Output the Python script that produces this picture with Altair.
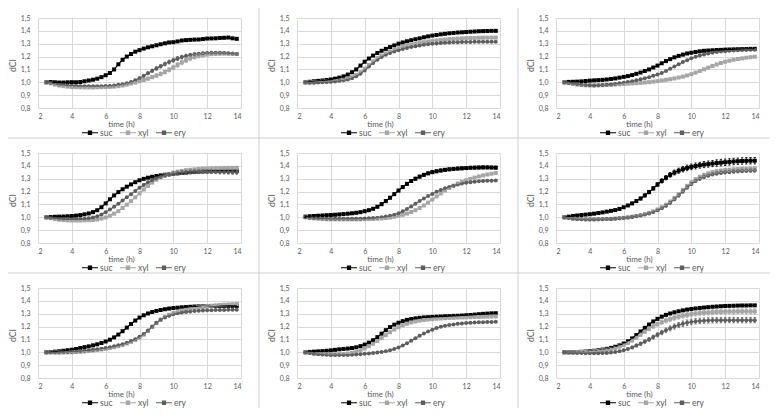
import altair as alt
import pandas as pd

# ---------------- data ----------------
TIME_H = [2.5, 2.75, 3.0, 3.25, 3.5, 3.75, 4.0, 4.25, 4.5, 4.75,
          5.0, 5.25, 5.5, 5.75, 6.0, 6.25, 6.5, 6.75, 7.0, 7.25,
          7.5, 7.75, 8.0, 8.25, 8.5, 8.75, 9.0, 9.25, 9.5, 9.75,
          10.0, 10.25, 10.5, 10.75, 11.0, 11.25, 11.5, 11.75, 12.0, 12.25,
          12.5, 12.75, 13.0, 13.25, 13.5, 13.75]
SERIES = ["suc", "xyl", "ery"]
COLORS = ["#000000", "#a6a6a6", "#5e5e5e"]
SHAPES = ["square", "square", "circle"]
X_TICKS = [2, 4, 6, 8, 10, 12, 14]
Y_TICKS = [0.8, 0.9, 1.0, 1.1, 1.2, 1.3, 1.4, 1.5]

P1_SUC = [1.000, 1.002, 1.000, 0.998, 0.998, 1.000, 1.001, 1.000, 1.002, 1.008,
          1.014, 1.020, 1.028, 1.040, 1.055, 1.072, 1.100, 1.140, 1.175, 1.200,
          1.220, 1.238, 1.250, 1.262, 1.272, 1.280, 1.288, 1.296, 1.303, 1.310,
          1.312, 1.318, 1.325, 1.328, 1.330, 1.332, 1.333, 1.336, 1.340, 1.341,
          1.342, 1.345, 1.346, 1.348, 1.342, 1.338]
P1_XYL = [1.000, 0.992, 0.982, 0.975, 0.970, 0.966, 0.963, 0.962, 0.961, 0.960,
          0.960, 0.960, 0.961, 0.962, 0.963, 0.964, 0.966, 0.970, 0.975, 0.982,
          0.990, 0.998, 1.008, 1.018, 1.028, 1.040, 1.052, 1.065, 1.080, 1.097,
          1.115, 1.135, 1.155, 1.172, 1.186, 1.197, 1.205, 1.211, 1.216, 1.219,
          1.221, 1.222, 1.223, 1.222, 1.221, 1.220]
P1_ERY = [1.000, 0.995, 0.988, 0.982, 0.978, 0.975, 0.973, 0.972, 0.970, 0.970,
          0.970, 0.970, 0.970, 0.970, 0.971, 0.972, 0.975, 0.980, 0.985, 0.992,
          1.002, 1.015, 1.032, 1.050, 1.070, 1.090, 1.108, 1.125, 1.142, 1.158,
          1.172, 1.185, 1.196, 1.205, 1.212, 1.218, 1.222, 1.225, 1.228, 1.229,
          1.230, 1.229, 1.228, 1.226, 1.223, 1.220]

P2_SUC = [1.000, 1.004, 1.008, 1.011, 1.014, 1.018, 1.022, 1.028, 1.036, 1.046,
          1.060, 1.078, 1.100, 1.130, 1.160, 1.185, 1.208, 1.228, 1.245, 1.260,
          1.274, 1.287, 1.300, 1.310, 1.319, 1.327, 1.335, 1.342, 1.350, 1.357,
          1.363, 1.368, 1.373, 1.377, 1.381, 1.384, 1.387, 1.389, 1.391, 1.393,
          1.395, 1.397, 1.398, 1.399, 1.400, 1.400]
P2_XYL = [1.000, 0.998, 1.000, 1.002, 1.004, 1.006, 1.008, 1.011, 1.015, 1.020,
          1.028, 1.040, 1.056, 1.078, 1.105, 1.135, 1.163, 1.188, 1.208, 1.225,
          1.240, 1.253, 1.265, 1.276, 1.285, 1.293, 1.300, 1.306, 1.312, 1.317,
          1.322, 1.326, 1.330, 1.333, 1.336, 1.338, 1.340, 1.342, 1.343, 1.344,
          1.345, 1.346, 1.347, 1.347, 1.348, 1.348]
P2_ERY = [1.000, 0.996, 0.996, 0.998, 1.000, 1.002, 1.004, 1.007, 1.011, 1.016,
          1.022, 1.032, 1.046, 1.066, 1.092, 1.122, 1.150, 1.175, 1.196, 1.214,
          1.228, 1.240, 1.250, 1.259, 1.267, 1.274, 1.280, 1.286, 1.291, 1.295,
          1.299, 1.302, 1.305, 1.307, 1.309, 1.311, 1.312, 1.313, 1.314, 1.314,
          1.315, 1.315, 1.315, 1.315, 1.315, 1.315]

P3_SUC = [1.000, 1.003, 1.004, 1.005, 1.007, 1.010, 1.013, 1.015, 1.017, 1.019,
          1.022, 1.026, 1.030, 1.036, 1.042, 1.048, 1.056, 1.066, 1.076, 1.088,
          1.100, 1.115, 1.130, 1.148, 1.165, 1.180, 1.194, 1.205, 1.215, 1.224,
          1.230, 1.236, 1.241, 1.245, 1.247, 1.249, 1.251, 1.252, 1.254, 1.255,
          1.256, 1.257, 1.258, 1.259, 1.260, 1.260]
P3_XYL = [1.000, 0.994, 0.988, 0.983, 0.979, 0.976, 0.975, 0.975, 0.976, 0.977,
          0.979, 0.981, 0.983, 0.985, 0.987, 0.989, 0.991, 0.993, 0.995, 0.998,
          1.001, 1.005, 1.009, 1.014, 1.019, 1.024, 1.030, 1.037, 1.044, 1.053,
          1.063, 1.075, 1.088, 1.101, 1.114, 1.127, 1.139, 1.150, 1.160, 1.168,
          1.175, 1.181, 1.186, 1.191, 1.195, 1.199]
P3_ERY = [1.000, 0.995, 0.990, 0.985, 0.981, 0.978, 0.976, 0.975, 0.976, 0.978,
          0.980, 0.983, 0.987, 0.992, 0.997, 1.003, 1.009, 1.016, 1.023, 1.031,
          1.040, 1.050, 1.060, 1.073, 1.088, 1.105, 1.123, 1.140, 1.157, 1.172,
          1.186, 1.198, 1.208, 1.217, 1.224, 1.230, 1.235, 1.239, 1.242, 1.245,
          1.247, 1.249, 1.251, 1.252, 1.253, 1.254]

P4_SUC = [1.000, 1.002, 1.004, 1.005, 1.006, 1.008, 1.010, 1.013, 1.017, 1.023,
          1.030, 1.040, 1.055, 1.078, 1.108, 1.140, 1.170, 1.196, 1.218, 1.238,
          1.256, 1.273, 1.288, 1.299, 1.308, 1.315, 1.321, 1.326, 1.331, 1.335,
          1.339, 1.342, 1.345, 1.348, 1.351, 1.353, 1.355, 1.357, 1.358, 1.359,
          1.360, 1.361, 1.362, 1.362, 1.362, 1.362]
P4_XYL = [1.000, 0.993, 0.986, 0.981, 0.978, 0.976, 0.975, 0.975, 0.975, 0.976,
          0.977, 0.979, 0.983, 0.990, 0.999, 1.012, 1.028, 1.048, 1.072, 1.098,
          1.126, 1.155, 1.186, 1.216, 1.244, 1.270, 1.292, 1.310, 1.325, 1.337,
          1.347, 1.355, 1.361, 1.366, 1.370, 1.373, 1.376, 1.378, 1.380, 1.381,
          1.382, 1.383, 1.384, 1.385, 1.385, 1.385]
P4_ERY = [1.000, 0.996, 0.992, 0.989, 0.987, 0.986, 0.985, 0.985, 0.986, 0.988,
          0.992, 0.998, 1.008, 1.022, 1.040, 1.060, 1.082, 1.106, 1.130, 1.155,
          1.180, 1.205, 1.230, 1.252, 1.272, 1.289, 1.303, 1.315, 1.325, 1.333,
          1.339, 1.344, 1.348, 1.351, 1.353, 1.354, 1.355, 1.355, 1.355, 1.355,
          1.354, 1.353, 1.352, 1.351, 1.350, 1.350]

P5_SUC = [1.005, 1.008, 1.010, 1.012, 1.014, 1.016, 1.018, 1.020, 1.022, 1.025,
          1.028, 1.031, 1.035, 1.040, 1.047, 1.055, 1.066, 1.082, 1.102, 1.126,
          1.152, 1.180, 1.208, 1.235, 1.260, 1.282, 1.300, 1.316, 1.330, 1.342,
          1.351, 1.358, 1.364, 1.369, 1.373, 1.376, 1.379, 1.381, 1.383, 1.385,
          1.386, 1.387, 1.388, 1.388, 1.387, 1.386]
P5_XYL = [1.000, 0.995, 0.991, 0.988, 0.986, 0.985, 0.984, 0.984, 0.984, 0.984,
          0.984, 0.984, 0.984, 0.984, 0.985, 0.986, 0.987, 0.989, 0.991, 0.994,
          0.998, 1.004, 1.011, 1.019, 1.029, 1.041, 1.055, 1.072, 1.092, 1.114,
          1.138, 1.162, 1.186, 1.208, 1.228, 1.246, 1.262, 1.276, 1.288, 1.299,
          1.309, 1.318, 1.326, 1.333, 1.339, 1.344]
P5_ERY = [1.000, 0.997, 0.994, 0.992, 0.990, 0.989, 0.988, 0.988, 0.988, 0.988,
          0.988, 0.988, 0.988, 0.989, 0.990, 0.992, 0.994, 0.997, 1.001, 1.006,
          1.012, 1.020, 1.031, 1.046, 1.064, 1.084, 1.105, 1.126, 1.146, 1.165,
          1.182, 1.198, 1.212, 1.225, 1.236, 1.246, 1.255, 1.262, 1.268, 1.273,
          1.277, 1.280, 1.282, 1.284, 1.285, 1.286]

P6_SUC = [1.000, 1.005, 1.010, 1.014, 1.018, 1.021, 1.024, 1.028, 1.033, 1.038,
          1.044, 1.050, 1.056, 1.065, 1.078, 1.092, 1.108, 1.126, 1.146, 1.170,
          1.196, 1.225, 1.255, 1.283, 1.308, 1.330, 1.348, 1.362, 1.374, 1.384,
          1.392, 1.399, 1.405, 1.410, 1.414, 1.418, 1.422, 1.425, 1.428, 1.431,
          1.434, 1.436, 1.438, 1.439, 1.440, 1.440]
P6_XYL = [1.000, 0.995, 0.991, 0.988, 0.986, 0.985, 0.985, 0.985, 0.985, 0.986,
          0.987, 0.988, 0.990, 0.993, 0.996, 1.000, 1.005, 1.010, 1.016, 1.024,
          1.034, 1.046, 1.061, 1.078, 1.098, 1.122, 1.150, 1.180, 1.212, 1.243,
          1.271, 1.295, 1.314, 1.329, 1.341, 1.350, 1.357, 1.362, 1.366, 1.369,
          1.372, 1.374, 1.376, 1.377, 1.378, 1.379]
P6_ERY = [1.000, 0.994, 0.989, 0.986, 0.984, 0.983, 0.983, 0.983, 0.984, 0.985,
          0.986, 0.987, 0.989, 0.992, 0.995, 0.999, 1.003, 1.008, 1.014, 1.021,
          1.030, 1.041, 1.055, 1.071, 1.090, 1.113, 1.140, 1.170, 1.201, 1.232,
          1.259, 1.282, 1.300, 1.314, 1.325, 1.334, 1.341, 1.346, 1.350, 1.353,
          1.356, 1.358, 1.360, 1.362, 1.363, 1.364]

P7_SUC = [1.000, 1.002, 1.005, 1.008, 1.012, 1.016, 1.020, 1.026, 1.033, 1.040,
          1.046, 1.054, 1.062, 1.072, 1.084, 1.098, 1.116, 1.138, 1.164, 1.192,
          1.220, 1.247, 1.270, 1.288, 1.302, 1.313, 1.322, 1.329, 1.335, 1.340,
          1.344, 1.347, 1.350, 1.352, 1.354, 1.356, 1.357, 1.358, 1.359, 1.360,
          1.360, 1.361, 1.361, 1.361, 1.361, 1.361]
P7_XYL = [1.000, 0.998, 0.997, 0.997, 0.998, 0.999, 1.000, 1.002, 1.004, 1.007,
          1.010, 1.014, 1.018, 1.022, 1.027, 1.033, 1.040, 1.048, 1.057, 1.068,
          1.081, 1.096, 1.114, 1.137, 1.165, 1.196, 1.227, 1.254, 1.275, 1.292,
          1.305, 1.316, 1.325, 1.333, 1.340, 1.346, 1.351, 1.355, 1.359, 1.362,
          1.365, 1.368, 1.370, 1.372, 1.374, 1.376]
P7_ERY = [1.000, 1.000, 1.000, 1.001, 1.002, 1.003, 1.005, 1.007, 1.009, 1.012,
          1.015, 1.019, 1.023, 1.028, 1.033, 1.039, 1.046, 1.054, 1.063, 1.074,
          1.087, 1.102, 1.120, 1.143, 1.170, 1.200, 1.229, 1.253, 1.271, 1.285,
          1.295, 1.303, 1.309, 1.314, 1.318, 1.321, 1.323, 1.325, 1.326, 1.327,
          1.328, 1.329, 1.329, 1.330, 1.330, 1.330]

P8_SUC = [1.000, 1.003, 1.005, 1.007, 1.009, 1.012, 1.015, 1.019, 1.023, 1.026,
          1.029, 1.033, 1.039, 1.048, 1.060, 1.075, 1.094, 1.118, 1.145, 1.172,
          1.196, 1.215, 1.230, 1.242, 1.252, 1.259, 1.264, 1.268, 1.271, 1.273,
          1.275, 1.277, 1.278, 1.280, 1.281, 1.283, 1.284, 1.286, 1.288, 1.290,
          1.293, 1.296, 1.299, 1.301, 1.303, 1.304]
P8_XYL = [1.000, 0.995, 0.991, 0.988, 0.986, 0.985, 0.984, 0.984, 0.985, 0.987,
          0.990, 0.996, 1.004, 1.016, 1.030, 1.047, 1.066, 1.087, 1.110, 1.133,
          1.156, 1.177, 1.195, 1.210, 1.222, 1.232, 1.240, 1.246, 1.251, 1.255,
          1.258, 1.261, 1.263, 1.265, 1.267, 1.268, 1.270, 1.271, 1.272, 1.273,
          1.274, 1.275, 1.276, 1.277, 1.278, 1.279]
P8_ERY = [1.000, 0.994, 0.989, 0.985, 0.982, 0.980, 0.979, 0.978, 0.978, 0.978,
          0.979, 0.980, 0.982, 0.985, 0.988, 0.991, 0.995, 0.999, 1.003, 1.008,
          1.015, 1.025, 1.038, 1.053, 1.070, 1.089, 1.109, 1.128, 1.146, 1.162,
          1.176, 1.188, 1.198, 1.206, 1.212, 1.217, 1.221, 1.224, 1.227, 1.229,
          1.231, 1.233, 1.234, 1.235, 1.236, 1.237]

P9_SUC = [1.000, 1.000, 1.001, 1.002, 1.004, 1.006, 1.009, 1.012, 1.016, 1.021,
          1.027, 1.034, 1.043, 1.054, 1.068, 1.086, 1.108, 1.134, 1.162, 1.190,
          1.216, 1.240, 1.260, 1.277, 1.291, 1.302, 1.311, 1.319, 1.326, 1.332,
          1.337, 1.341, 1.345, 1.348, 1.351, 1.354, 1.356, 1.358, 1.360, 1.361,
          1.362, 1.363, 1.364, 1.364, 1.365, 1.365]
P9_XYL = [1.000, 1.000, 1.000, 1.001, 1.002, 1.003, 1.005, 1.008, 1.011, 1.015,
          1.020, 1.026, 1.034, 1.044, 1.056, 1.072, 1.091, 1.113, 1.137, 1.160,
          1.182, 1.202, 1.219, 1.234, 1.247, 1.258, 1.268, 1.277, 1.285, 1.291,
          1.297, 1.301, 1.305, 1.308, 1.310, 1.312, 1.314, 1.315, 1.316, 1.317,
          1.317, 1.318, 1.318, 1.318, 1.318, 1.318]
P9_ERY = [1.000, 0.998, 0.996, 0.995, 0.994, 0.993, 0.993, 0.993, 0.993, 0.994,
          0.995, 0.998, 1.002, 1.008, 1.016, 1.026, 1.038, 1.052, 1.067, 1.083,
          1.100, 1.118, 1.136, 1.154, 1.171, 1.186, 1.200, 1.212, 1.222, 1.230,
          1.236, 1.241, 1.244, 1.246, 1.248, 1.249, 1.250, 1.250, 1.250, 1.250,
          1.250, 1.250, 1.250, 1.250, 1.250, 1.250]

# error-bar half widths, only for the series where bars are visible
P1_XYL_ERR = [0.000, 0.003, 0.004, 0.004, 0.004, 0.004, 0.004, 0.004, 0.004, 0.004,
              0.004, 0.004, 0.004, 0.004, 0.004, 0.004, 0.005, 0.005, 0.006, 0.006,
              0.007, 0.008, 0.009, 0.010, 0.011, 0.012, 0.013, 0.014, 0.015, 0.016,
              0.017, 0.018, 0.018, 0.018, 0.017, 0.016, 0.015, 0.013, 0.012, 0.011,
              0.010, 0.010, 0.009, 0.009, 0.008, 0.008]
P1_ERY_ERR = [0.000, 0.003, 0.003, 0.003, 0.003, 0.003, 0.003, 0.003, 0.003, 0.003,
              0.003, 0.003, 0.003, 0.003, 0.004, 0.004, 0.004, 0.005, 0.005, 0.006,
              0.007, 0.008, 0.009, 0.010, 0.011, 0.012, 0.013, 0.014, 0.014, 0.015,
              0.015, 0.015, 0.014, 0.013, 0.012, 0.011, 0.010, 0.009, 0.008, 0.008,
              0.007, 0.007, 0.006, 0.006, 0.006, 0.006]
P4_ERY_ERR = [0.000, 0.002, 0.002, 0.002, 0.002, 0.002, 0.002, 0.002, 0.002, 0.002,
              0.003, 0.003, 0.003, 0.004, 0.004, 0.005, 0.005, 0.006, 0.006, 0.007,
              0.007, 0.008, 0.008, 0.009, 0.009, 0.010, 0.010, 0.011, 0.012, 0.013,
              0.014, 0.015, 0.015, 0.015, 0.015, 0.015, 0.015, 0.015, 0.015, 0.015,
              0.015, 0.015, 0.015, 0.015, 0.015, 0.015]
P5_SUC_ERR = [0.006, 0.007, 0.008, 0.008, 0.008, 0.008, 0.008, 0.008, 0.008, 0.008,
              0.008, 0.008, 0.008, 0.008, 0.008, 0.008, 0.008, 0.009, 0.009, 0.009,
              0.010, 0.010, 0.010, 0.010, 0.011, 0.011, 0.011, 0.011, 0.011, 0.011,
              0.011, 0.011, 0.011, 0.011, 0.011, 0.011, 0.011, 0.011, 0.011, 0.011,
              0.011, 0.011, 0.011, 0.011, 0.011, 0.011]
P6_SUC_ERR = [0.000, 0.003, 0.004, 0.004, 0.005, 0.005, 0.005, 0.005, 0.006, 0.006,
              0.006, 0.006, 0.007, 0.007, 0.008, 0.008, 0.009, 0.010, 0.011, 0.012,
              0.013, 0.014, 0.015, 0.016, 0.017, 0.018, 0.019, 0.020, 0.021, 0.022,
              0.022, 0.023, 0.023, 0.024, 0.024, 0.024, 0.025, 0.025, 0.025, 0.025,
              0.025, 0.025, 0.025, 0.025, 0.025, 0.025]
P6_XYL_ERR = [0.000, 0.002, 0.002, 0.002, 0.002, 0.002, 0.002, 0.002, 0.002, 0.002,
              0.002, 0.002, 0.002, 0.003, 0.003, 0.003, 0.003, 0.004, 0.004, 0.005,
              0.005, 0.006, 0.007, 0.008, 0.009, 0.010, 0.011, 0.012, 0.013, 0.014,
              0.014, 0.014, 0.014, 0.014, 0.013, 0.013, 0.013, 0.013, 0.013, 0.013,
              0.013, 0.013, 0.013, 0.013, 0.013, 0.013]
P6_ERY_ERR = [0.000, 0.002, 0.002, 0.002, 0.002, 0.002, 0.002, 0.002, 0.002, 0.002,
              0.002, 0.002, 0.002, 0.003, 0.003, 0.003, 0.003, 0.004, 0.004, 0.005,
              0.005, 0.006, 0.007, 0.008, 0.009, 0.010, 0.011, 0.012, 0.012, 0.012,
              0.012, 0.012, 0.012, 0.012, 0.012, 0.012, 0.012, 0.012, 0.012, 0.012,
              0.012, 0.012, 0.012, 0.012, 0.012, 0.012]
P9_XYL_ERR = [0.000, 0.002, 0.002, 0.002, 0.003, 0.003, 0.003, 0.004, 0.004, 0.005,
              0.005, 0.006, 0.006, 0.007, 0.008, 0.009, 0.010, 0.011, 0.012, 0.013,
              0.014, 0.015, 0.016, 0.017, 0.018, 0.018, 0.019, 0.019, 0.020, 0.020,
              0.020, 0.020, 0.020, 0.020, 0.020, 0.020, 0.020, 0.020, 0.020, 0.020,
              0.020, 0.020, 0.020, 0.020, 0.020, 0.020]
P9_ERY_ERR = [0.000, 0.002, 0.002, 0.002, 0.003, 0.003, 0.003, 0.004, 0.004, 0.005,
              0.005, 0.006, 0.006, 0.007, 0.008, 0.009, 0.010, 0.011, 0.012, 0.013,
              0.014, 0.015, 0.016, 0.017, 0.018, 0.019, 0.020, 0.020, 0.021, 0.021,
              0.021, 0.021, 0.021, 0.021, 0.021, 0.021, 0.021, 0.021, 0.021, 0.021,
              0.021, 0.021, 0.021, 0.021, 0.021, 0.021]

PANELS = [
    (P1_SUC, P1_XYL, P1_ERY), (P2_SUC, P2_XYL, P2_ERY), (P3_SUC, P3_XYL, P3_ERY),
    (P4_SUC, P4_XYL, P4_ERY), (P5_SUC, P5_XYL, P5_ERY), (P6_SUC, P6_XYL, P6_ERY),
    (P7_SUC, P7_XYL, P7_ERY), (P8_SUC, P8_XYL, P8_ERY), (P9_SUC, P9_XYL, P9_ERY),
]
ERRORS = {
    (0, "xyl"): P1_XYL_ERR, (0, "ery"): P1_ERY_ERR,
    (3, "ery"): P4_ERY_ERR,
    (4, "suc"): P5_SUC_ERR,
    (5, "suc"): P6_SUC_ERR, (5, "xyl"): P6_XYL_ERR, (5, "ery"): P6_ERY_ERR,
    (8, "xyl"): P9_XYL_ERR, (8, "ery"): P9_ERY_ERR,
}
CAP_HALF_H = 0.07  # half width of an error-bar cap, in hours

# ---------------- styling ----------------
W, H = 203, 90
GRID = "#d9d9d9"
SEP = "#d0d0d0"
TXT = "#595959"
FONT = "Lato"
LEG_PATH = ("M-1,-0.06L1,-0.06L1,0.06L-1,0.06Z "
            "M-0.27,-0.27L0.27,-0.27L0.27,0.27L-0.27,0.27Z")

one = pd.DataFrame({"k": [0]})


def vrule(x, y1, y2):
    return alt.Chart(one).mark_rule(color=SEP, strokeWidth=1).encode(
        x=alt.value(x), y=alt.value(y1), y2=alt.value(y2))


def hrule(y, x1, x2):
    return alt.Chart(one).mark_rule(color=SEP, strokeWidth=1).encode(
        y=alt.value(y), x=alt.value(x1), x2=alt.value(x2))


XSCALE = alt.Scale(domain=[2, 14], nice=False, zero=False)
YSCALE = alt.Scale(domain=[0.8, 1.5], nice=False, zero=False)
XAXIS = alt.Axis(values=X_TICKS, title="time (h)", grid=True, gridColor=GRID,
                 domain=False, ticks=False, tickSize=0, labelPadding=8.5,
                 labelBaseline="middle", labelFontSize=7, labelColor=TXT,
                 titleFontSize=8, titleFontWeight="normal", titleColor=TXT,
                 titleX=83, titleY=16, titleBaseline="middle")
YAXIS = alt.Axis(values=Y_TICKS, title="dCI", grid=True, gridColor=GRID,
                 domain=False, ticks=False, tickSize=0, labelPadding=8,
                 labelFontSize=7, labelColor=TXT,
                 labelExpr="replace(format(datum.value, '.1f'), '.', ',')",
                 titleFontSize=8.5, titleFontWeight="normal", titleColor=TXT,
                 titleX=-21, titleY=47)
CSCALE = alt.Scale(domain=SERIES, range=COLORS)


def panel(idx, suc, xyl, ery):
    row, col = divmod(idx, 3)
    recs, erecs = [], []
    for name, vals in zip(SERIES, (suc, xyl, ery)):
        errs = ERRORS.get((idx, name))
        for k, (t, v) in enumerate(zip(TIME_H, vals)):
            recs.append({"t": t, "v": v, "s": name})
            if errs is not None and k < len(errs) and errs[k] > 0:
                erecs.append({"t": t, "ta": t - CAP_HALF_H, "tb": t + CAP_HALF_H,
                              "lo": v - errs[k], "hi": v + errs[k], "s": name})
    df = pd.DataFrame(recs)

    x = alt.X("t:Q", scale=XSCALE, axis=XAXIS, title="time (h)")
    y = alt.Y("v:Q", scale=YSCALE, axis=YAXIS, title="dCI")
    legend = alt.Legend(orient="none", legendX=44, legendY=106.5, direction="horizontal",
                        title=None, symbolType=LEG_PATH, symbolSize=256,
                        labelFontSize=8.5, labelColor=TXT, labelOffset=2,
                        columnPadding=7, padding=0, symbolStrokeWidth=0)
    nocolor = alt.Color("s:N", scale=CSCALE, legend=None, sort=SERIES)

    pts = alt.Chart(df).mark_point(filled=True, size=16, opacity=1).encode(
        x=x, y=y,
        color=alt.Color("s:N", scale=CSCALE, legend=legend, sort=SERIES),
        shape=alt.Shape("s:N", scale=alt.Scale(domain=SERIES, range=SHAPES), legend=None),
    )
    lines = alt.Chart(df).mark_line(strokeWidth=1.2).encode(x=x, y=y, color=nocolor)
    layers = [pts, lines]

    if erecs:
        edf = pd.DataFrame(erecs)
        xa = alt.X("ta:Q", scale=XSCALE, axis=XAXIS, title="time (h)")
        ylo = alt.Y("lo:Q", scale=YSCALE, axis=YAXIS, title="dCI")
        yhi = alt.Y("hi:Q", scale=YSCALE, axis=YAXIS, title="dCI")
        bars = alt.Chart(edf).mark_rule(strokeWidth=0.8).encode(
            x=x, y=ylo, y2="hi:Q", color=nocolor)
        cap_lo = alt.Chart(edf).mark_rule(strokeWidth=0.8).encode(
            x=xa, x2="tb:Q", y=ylo, color=nocolor)
        cap_hi = alt.Chart(edf).mark_rule(strokeWidth=0.8).encode(
            x=xa, x2="tb:Q", y=yhi, color=nocolor)
        layers += [bars, cap_lo, cap_hi]

    top = -10 if row == 0 else -15
    if col < 2:
        layers.append(vrule(221, top, 120))
    if row < 2:
        left = -30 if col == 0 else -38
        right = 221 if col < 2 else 240
        layers.append(hrule(120, left, right))
    return alt.layer(*layers).properties(width=W, height=H)


charts = [panel(i, *p) for i, p in enumerate(PANELS)]

chart = alt.concat(*charts, columns=3, spacing={"row": 45, "column": 56},
                   bounds="flush").resolve_scale(color="independent").properties(
    autosize=alt.AutoSizeParams(type="none"),
    padding={"left": 30, "top": 10, "right": 732, "bottom": 392},
).configure(font=FONT).configure_view(strokeWidth=0)

chart.save("out.html", embed_options={"renderer": "svg", "actions": False})
